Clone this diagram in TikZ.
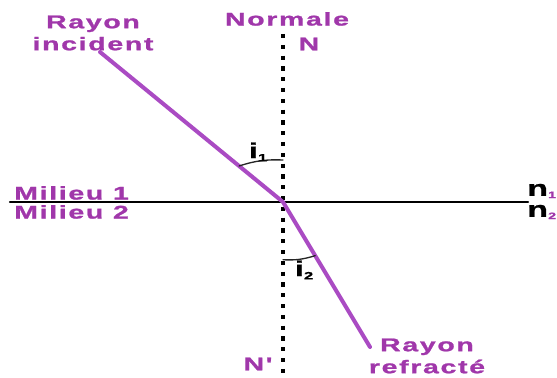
\documentclass[tikz,border=0pt]{standalone}
\usepackage{fontspec}
\newfontfamily\lblfont{Liberation Sans}[FakeStretch=1.55, LetterSpace=9, FakeBold=1.2]
\usepackage{xcolor}
\usetikzlibrary{calc}
\definecolor{txtviolet}{RGB}{160,55,170}
\definecolor{rayviolet}{RGB}{170,75,195}
\tikzset{
 lbl/.style={text=txtviolet, inner sep=0pt, align=center, font=\lblfont\bfseries\fontsize{13.8}{16.5}\selectfont},
 indice/.style={lbl, text=black, font=\lblfont\bfseries\fontsize{16}{16}\selectfont},
 rayon/.style={rayviolet, line width=3pt},
 normale/.style={line width=3pt, line cap=butt, dash pattern=on 3.2pt off 4.9pt},
 surface/.style={line width=1.6pt},
 angl/.style={line width=1pt, black!85}
}
\begin{document}
\begin{tikzpicture}[x=0.75pt, y=-0.75pt, line join=round, line cap=round]
 \useasboundingbox (0,0) rectangle (557,378);
 % Surface de separation
 \coordinate (I) at (283,202);
 \coordinate (L) at (10,202);
 \coordinate (R) at (528,202);
 \draw[surface] (L) -- (R);
 % Normale
 \coordinate (Nh) at (283,34);
 \coordinate (Nb) at (283,377);
 \draw[normale] (Nh) -- (Nb);
 % Rayons
 \coordinate (A) at (100,52);
 \coordinate (B) at (370,347);
 \draw[rayon] (A) -- (I) -- (B);
 % Angles
 \draw[angl] ($(I)!0.24!(A)$) to[bend left=10] ($(I)!0.25!(Nh)$);
 \draw[angl] ($(I)!0.33!(Nb)$) to[bend right=10] ($(I)!0.37!(B)$);
 \node[indice] (i1) at (258,152) {i\raisebox{-0.3ex}{\fontsize{8}{8}\selectfont 1}};
 \node[indice] (i2) at (304,270) {i\raisebox{-0.3ex}{\fontsize{8}{8}\selectfont 2}};
 % Textes
 \node[lbl] (ri) at (93,33) {Rayon\\incident};
 \node[lbl] (rr) at (427,356) {Rayon\\refract\'e};
 \node[lbl] (nor) at (287,19) {Normale};
 \node[lbl] (N) at (309,44) {N};
 \node[lbl] (Np) at (258,364) {N'};
 \node[lbl, anchor=west] (m1) at (14,193) {Milieu 1};
 \node[lbl, anchor=west] (m2) at (14,212) {Milieu 2};
 \node[indice, anchor=west, font=\lblfont\bfseries\fontsize{16.5}{16.5}\selectfont] (n1) at (527,191) {n\raisebox{-0.2ex}{\textcolor{txtviolet}{\fontsize{7}{7}\selectfont 1}}};
 \node[indice, anchor=west, font=\lblfont\bfseries\fontsize{16.5}{16.5}\selectfont] (n2) at (527,212) {n\raisebox{-0.2ex}{\textcolor{txtviolet}{\fontsize{7}{7}\selectfont 2}}};
\end{tikzpicture}
\end{document}
